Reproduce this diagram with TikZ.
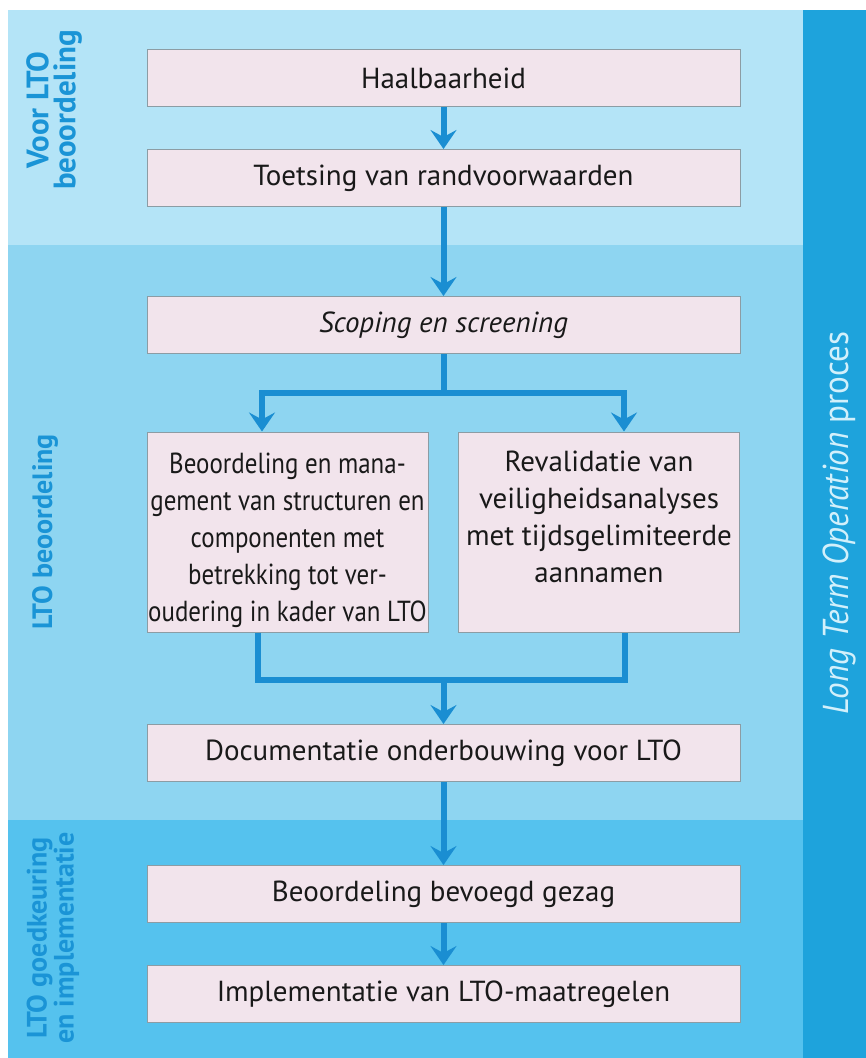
\documentclass[tikz,border=0pt]{standalone}
\usepackage{fontspec}
\setmainfont{PT Sans}
\newfontfamily\narrowfont{PT Sans}[FakeStretch=0.86]
\newfontfamily\stripfont{PT Sans}[FakeStretch=0.92]
\usetikzlibrary{arrows.meta}
\definecolor{bandA}{HTML}{B4E4F7}
\definecolor{bandB}{HTML}{8ED5F1}
\definecolor{bandC}{HTML}{55C2EE}
\definecolor{strip}{HTML}{1EA3DC}
\definecolor{boxfill}{HTML}{F2E4EC}
\definecolor{boxline}{HTML}{8C9CA4}
\definecolor{flow}{HTML}{1A8ED2}
\definecolor{lbl}{HTML}{1A94D6}
\definecolor{striptext}{HTML}{D2F0FB}
\begin{document}
\begin{tikzpicture}[x=1pt,y=-1pt,
 stepbox/.style={draw=boxline, line width=1pt, fill=boxfill, minimum width=593pt, minimum height=57pt, inner sep=0pt, font=\fontsize{29}{37}\selectfont, text=black!90, align=center},
 halfbox/.style={stepbox, minimum width=281pt, minimum height=200pt},
 flowline/.style={draw=flow, line width=6pt},
 flowarrow/.style={flowline, -{Stealth[length=19pt,width=26pt,inset=7pt]}},
 bandlabel/.style={text=lbl, font=\fontsize{28}{27}\selectfont\bfseries, rotate=90, align=center}
]
\useasboundingbox (0,0) rectangle (866,1058);
\fill[white] (0,0) rectangle (866,1058);
\fill[bandA] (8,10) rectangle (803,245);
\fill[bandB] (8,245) rectangle (803,820);
\fill[bandC] (8,820) rectangle (803,1058);
\fill[strip] (803,10) rectangle (866,1058);

\node[stepbox] (haal) at (443.5,78) {Haalbaarheid};
\node[stepbox] (toets) at (443.5,178) {Toetsing van randvoorwaarden};
\node[stepbox] (scope) at (443.5,325) {\itshape Scoping en screening};
\node[halfbox, font=\narrowfont\fontsize{29}{37}\selectfont] (beo) at (287.5,532) {\rule{0pt}{38pt}Beoordeling en mana-\\gement van structuren en\\componenten met\\betrekking tot ver-\\oudering in kader van LTO};
\node[halfbox] (reval) at (599,532) {\rule{0pt}{38pt}Revalidatie van\\veiligheidsanalyses\\met tijdsgelimiteerde\\aannamen\\\strut};
\node[stepbox] (doc) at (443.5,753) {Documentatie onderbouwing voor LTO};
\node[stepbox] (bev) at (443.5,894) {Beoordeling bevoegd gezag};
\node[stepbox] (impl) at (443.5,994) {Implementatie van LTO-maatregelen};

\draw[flowarrow] (haal) -- (toets);
\draw[flowarrow] (toets) -- (scope);
\coordinate (split) at (443.5,393);
\coordinate (sl) at (262,393);
\coordinate (sr) at (624,393);
\draw[flowline] (scope) -- (split);
\draw[flowarrow] (split) -- (sl) -- (sl |- beo.north);
\draw[flowarrow] (split) -- (sr) -- (sr |- reval.north);
\coordinate (jl) at (258,680);
\coordinate (jr) at (625,680);
\coordinate (join) at (443.5,680);
\draw[flowline] (jl |- beo.south) -- (jl) -- (jr) -- (jr |- reval.south);
\draw[flowarrow] (join) -- (doc);
\draw[flowarrow] (doc) -- (bev);
\draw[flowarrow] (bev) -- (impl);

\node[bandlabel, font=\fontsize{31}{27}\selectfont\bfseries] (l1) at (54,110) {Voor LTO\\beoordeling};
\node[bandlabel] (l2) at (45,532) {LTO beoordeling};
\node[bandlabel] (l3) at (53,938) {LTO goedkeuring\\en implementatie};
\node[rotate=90, text=striptext, font=\stripfont\fontsize{36}{36}\selectfont] (proc) at (839,523) {\itshape Long Term Operation\/\upshape\ proces};
\end{tikzpicture}
\end{document}
